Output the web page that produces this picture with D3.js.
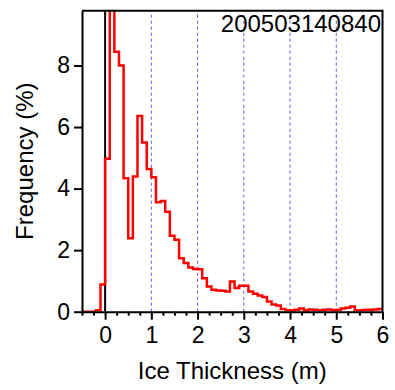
<!DOCTYPE html>
<html>
<head>
<meta charset="utf-8">
<script src="https://cdn.jsdelivr.net/npm/d3@7"></script>
<style>
    html, body { margin: 0; padding: 0; background: #fff; }
    #chart { width: 395px; height: 390px; }
    text { font-family: "Liberation Sans", Arial, sans-serif; fill: #000; }
</style>
</head>
<body>
<div id="chart"></div>
<script>
(function() {
    'use strict';

    // bin left edges (m), bins are 0.1 m wide
    const binEdges = [
        -0.5, -0.4, -0.3, -0.2, -0.1,
        0.0, 0.1, 0.2, 0.3, 0.4, 0.5, 0.6, 0.7, 0.8, 0.9,
        1.0, 1.1, 1.2, 1.3, 1.4, 1.5, 1.6, 1.7, 1.8, 1.9,
        2.0, 2.1, 2.2, 2.3, 2.4, 2.5, 2.6, 2.7, 2.8, 2.9,
        3.0, 3.1, 3.2, 3.3, 3.4, 3.5, 3.6, 3.7, 3.8, 3.9,
        4.0, 4.1, 4.2, 4.3, 4.4, 4.5, 4.6, 4.7, 4.8, 4.9,
        5.0, 5.1, 5.2, 5.3, 5.4, 5.5, 5.6, 5.7, 5.8, 5.9
    ];
    // frequency (%) in each bin
    const frequency = [
        0, 0, 0, 0.05, 0.88,
        4.97, 11.5, 8.45, 8.0, 4.34, 2.39, 4.39, 6.36, 5.5, 4.64,
        4.37, 3.56, 3.6, 3.25, 2.47, 2.34, 1.74, 1.58, 1.44, 1.39,
        1.38, 1.09, 0.82, 0.71, 0.69, 0.68, 0.66, 0.98, 0.77, 0.84,
        0.84, 0.66, 0.58, 0.53, 0.48, 0.33, 0.23, 0.2, 0.09, 0.05,
        0.04, 0.06, 0.1, 0.04, 0.07, 0.06, 0.04, 0.06, 0.07, 0.05,
        0.06, 0.1, 0.13, 0.17, 0.05, 0.05, 0.06, 0.06, 0.07, 0.09
    ];
    const binWidth = 0.1;

    const xTicks = [0, 1, 2, 3, 4, 5, 6];
    const yTicks = [0, 2, 4, 6, 8];
    const gridLines = [1, 2, 3, 4, 5];
    const title = '200503140840';

    const width = 395, height = 390;
    const margin = { top: 10.7, right: 12.5, bottom: 78.3, left: 82 };

    const svg = d3.select('#chart').append('svg')
        .attr('width', width)
        .attr('height', height);

    const x = d3.scaleLinear()
        .domain([-0.5, 6])
        .range([margin.left, width - margin.right]);

    const y = d3.scaleLinear()
        .domain([0, 9.78])
        .range([height - margin.bottom, margin.top]);

    svg.append('clipPath').attr('id', 'plot-clip')
        .append('rect')
        .attr('x', x.range()[0])
        .attr('y', y.range()[1])
        .attr('width', x.range()[1] - x.range()[0])
        .attr('height', y.range()[0] - y.range()[1]);

    // blue dashed grid
    svg.append('g')
        .selectAll('line')
        .data(gridLines)
        .enter().append('line')
        .attr('x1', d => x(d)).attr('x2', d => x(d))
        .attr('y1', y.range()[0]).attr('y2', y.range()[1])
        .attr('stroke', '#5a5aff')
        .attr('stroke-width', 1)
        .attr('stroke-dasharray', '3,3');

    // zero line
    svg.append('line')
        .attr('x1', x(0)).attr('x2', x(0))
        .attr('y1', y.range()[0]).attr('y2', y.range()[1])
        .attr('stroke', '#000')
        .attr('stroke-width', 2);

    // step histogram
    const pts = binEdges.map((e, i) => [e, frequency[i]]);
    pts.push([binEdges[binEdges.length - 1] + binWidth, frequency[frequency.length - 1]]);

    const line = d3.line()
        .x(d => x(d[0]))
        .y(d => y(d[1]))
        .curve(d3.curveStepAfter);

    svg.append('path')
        .datum(pts)
        .attr('clip-path', 'url(#plot-clip)')
        .attr('d', line)
        .attr('fill', 'none')
        .attr('stroke', '#ff0000')
        .attr('stroke-width', 2.5)
        .attr('stroke-linejoin', 'miter');

    // frame top/right
    svg.append('path')
        .attr('d', `M${x.range()[0]},${y.range()[1]}H${x.range()[1]}V${y.range()[0]}`)
        .attr('fill', 'none')
        .attr('stroke', '#000')
        .attr('stroke-width', 2);

    // minor x ticks
    const minor = d3.range(-0.5, 6.001, 0.25).filter(v => Math.abs(v - Math.round(v)) > 1e-6);
    svg.append('g')
        .attr('transform', `translate(0,${y.range()[0]})`)
        .call(d3.axisBottom(x).tickValues(minor).tickSize(4).tickFormat(''))
        .call(g => g.select('.domain').remove())
        .selectAll('line').attr('stroke-width', 2);

    // x axis
    const xAxis = svg.append('g')
        .attr('transform', `translate(0,${y.range()[0]})`)
        .call(d3.axisBottom(x).tickValues(xTicks).tickFormat(d3.format('d'))
            .tickSize(8).tickPadding(7).tickSizeOuter(0));
    xAxis.select('.domain').attr('stroke-width', 2);
    xAxis.selectAll('line').attr('stroke-width', 2);
    xAxis.selectAll('text').style('font-size', '23px');

    // y axis
    const yAxis = svg.append('g')
        .attr('transform', `translate(${x.range()[0]},0)`)
        .call(d3.axisLeft(y).tickValues(yTicks).tickFormat(d3.format('d'))
            .tickSize(8).tickPadding(4).tickSizeOuter(0));
    yAxis.select('.domain').attr('stroke-width', 2);
    yAxis.selectAll('line').attr('stroke-width', 2);
    yAxis.selectAll('text').style('font-size', '23px');

    // labels
    svg.append('text')
        .attr('x', (x.range()[0] + x.range()[1]) / 2)
        .attr('y', 379)
        .attr('text-anchor', 'middle')
        .style('font-size', '24px')
        .text('Ice Thickness (m)');

    svg.append('text')
        .attr('transform', `translate(33,${(y.range()[0] + y.range()[1]) / 2}) rotate(-90)`)
        .attr('text-anchor', 'middle')
        .style('font-size', '24px')
        .text('Frequency (%)');

    svg.append('text')
        .attr('x', 381)
        .attr('y', 31.5)
        .attr('text-anchor', 'end')
        .style('font-size', '24px')
        .text(title);
})();
</script>
</body>
</html>
